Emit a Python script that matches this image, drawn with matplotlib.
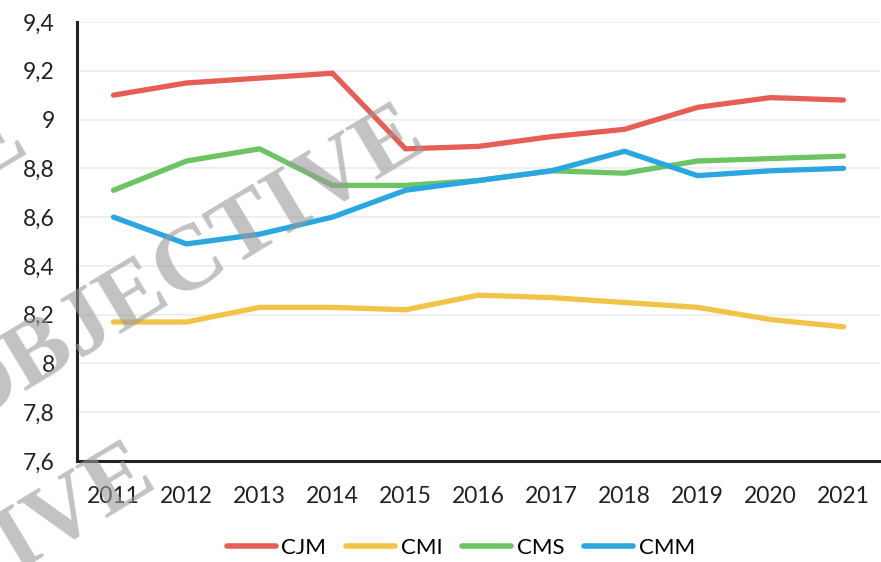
import matplotlib
matplotlib.use("Agg")
import matplotlib.pyplot as plt
from matplotlib.ticker import FuncFormatter

# =========================
# Data
# =========================
years = ["2011", "2012", "2013", "2014", "2015", "2016", "2017", "2018", "2019", "2020", "2021"]
cjm = [9.10, 9.15, 9.17, 9.19, 8.88, 8.89, 8.93, 8.96, 9.05, 9.09, 9.08]
cmi = [8.17, 8.17, 8.23, 8.23, 8.22, 8.28, 8.27, 8.25, 8.23, 8.18, 8.15]
cms = [8.71, 8.83, 8.88, 8.73, 8.73, 8.75, 8.79, 8.78, 8.83, 8.84, 8.85]
cmm = [8.60, 8.49, 8.53, 8.60, 8.71, 8.75, 8.79, 8.87, 8.77, 8.79, 8.80]

series = {"CJM": cjm, "CMI": cmi, "CMS": cms, "CMM": cmm}
colors = {"CJM": "#e65f57", "CMI": "#f1c346", "CMS": "#6cc462", "CMM": "#2aa6e0"}

# =========================
# Figure
# =========================
plt.rcParams['font.family'] = ['Lato', 'DejaVu Sans']
W, H = 881, 562
fig = plt.figure(figsize=(W / 100, H / 100), dpi=100)
ax = fig.add_axes([77 / W, 1 - 461 / H, (880 - 77) / W, (461 - 22) / H])

x = list(range(len(years)))
for name, vals in series.items():
    ax.plot(x, vals, color=colors[name], linewidth=3.8, label=name,
            solid_capstyle='round', solid_joinstyle='round')

ax.set_xlim(-0.5, len(years) - 0.5)
ax.set_ylim(7.6, 9.4)
ax.set_yticks([7.6, 7.8, 8.0, 8.2, 8.4, 8.6, 8.8, 9.0, 9.2, 9.4])
ax.yaxis.set_major_formatter(FuncFormatter(lambda v, p: ("%g" % round(v, 1)).replace(".", ",")))
ax.set_xticks(x)
ax.set_xticklabels(years)

ax.grid(axis='y', color='#ececec', linewidth=1.2)
ax.set_axisbelow(True)
for side in ["top", "right"]:
    ax.spines[side].set_visible(False)
for side in ["left", "bottom"]:
    ax.spines[side].set_color("#222222")
    ax.spines[side].set_linewidth(2.2)
ax.tick_params(axis='both', length=0, labelsize=16.5, colors='#222222')
ax.tick_params(axis='y', pad=16)
ax.tick_params(axis='x', pad=18)

leg = fig.legend(loc='center', bbox_to_anchor=(461 / W, 1 - 548 / H), ncol=4,
                 frameon=False, fontsize=16, handlelength=2.2, handletextpad=0.25,
                 columnspacing=0.9)
for line in leg.get_lines():
    line.set_linewidth(4)

# =========================
# Watermark
# =========================
wm = dict(family='Liberation Serif', fontweight='bold', fontsize=68, color='#9a9a9a',
          alpha=0.6, rotation=31, rotation_mode='anchor', zorder=10)
fig.text(184 / W, 1 - 268 / H, "OBJECTIVE", ha='center', va='center', **wm)
fig.text(160 / W, 1 - 485 / H, "OBJECTIVE", ha='right', va='baseline', **wm)
fig.text(32 / W, 1 - 150 / H, "OBJECTIVE", ha='right', va='baseline', **wm)

fig.savefig("out.png", dpi=100)
